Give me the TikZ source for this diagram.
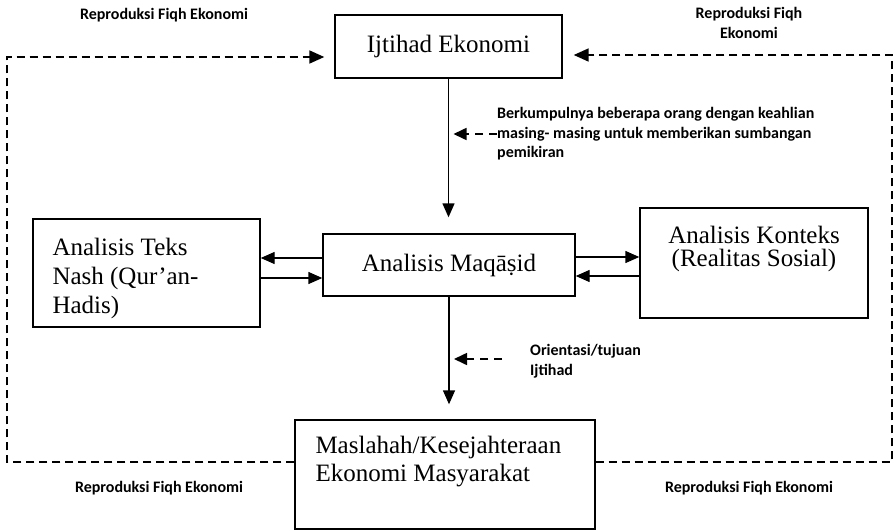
\documentclass[tikz,border=0pt]{standalone}
\usepackage{fontspec}
\setmainfont{Liberation Serif}
\newfontfamily\notefont{Carlito}
\usetikzlibrary{arrows.meta,positioning,calc}

\begin{document}
\begin{tikzpicture}[x=1pt,y=-1pt,
  box/.style={draw, rectangle, line width=1.4pt, inner sep=0pt},
  boxtext/.style={font=\fontsize{25}{29}\selectfont, inner sep=0pt, align=left},
  ptr/.style={-{Triangle[length=14pt,width=12pt]}, line width=1.4pt},
  feedback/.style={-{Triangle[length=15pt,width=13pt]}, line width=1.8pt, dash pattern=on 8pt off 5pt},
  noteptr/.style={-{Triangle[length=13pt,width=12pt]}, line width=1.6pt, dash pattern=on 8pt off 6pt, shorten >=5pt},
  note/.style={font=\notefont\bfseries\fontsize{16}{19.5}\selectfont, inner sep=0pt, align=left},
  repro/.style={note, align=center}
]
\useasboundingbox (0,0) rectangle (896,530);

% boxes
\node[box, minimum width=227pt, minimum height=63pt, font=\fontsize{25}{29}\selectfont] (ijtihad) at (448.5,46.5) {Ijtihad Ekonomi};
\node[box, minimum width=252pt, minimum height=62pt, font=\fontsize{25}{29}\selectfont] (maqasid) at (449,265) {Analisis Maqāṣid};
\node[box, minimum width=227pt, minimum height=108pt] (teks) at (146.5,273) {};
\node[boxtext, below right=20pt and 20pt of teks.north west] (teksTxt) {Analisis Teks\\Nash (Qur’an-\\Hadis)};
\node[box, minimum width=228pt, minimum height=110pt] (konteks) at (754,263) {};
\node[boxtext, align=center, font=\fontsize{25}{23}\selectfont, below=19pt of konteks.north] (konteksTxt) {Analisis Konteks\\(Realitas Sosial)};
\node[box, minimum width=300pt, minimum height=109pt] (maslahah) at (445,474.5) {};
\node[boxtext, font=\fontsize{25}{28}\selectfont, below right=17pt and 21pt of maslahah.north west] (maslahahTxt) {Maslahah/Kesejahteraan\\Ekonomi Masyarakat};

% labels
\node[repro] (reproTL) at (164,15) {Reproduksi Fiqh Ekonomi};
\node[repro] (reproTR) at (749,23) {Reproduksi Fiqh\\Ekonomi};
\node[repro] (reproBL) at (159,488) {Reproduksi Fiqh Ekonomi};
\node[repro] (reproBR) at (749,488) {Reproduksi Fiqh Ekonomi};
\node[note, anchor=west] (note1) at (497,134) {Berkumpulnya beberapa orang dengan keahlian\\masing- masing untuk memberikan sumbangan\\pemikiran};
\node[note, anchor=west] (note2) at (530,361) {Orientasi/tujuan\\Ijtihad};

% loop corners
\coordinate (loopBL) at (7,462);
\coordinate (loopTL) at (7,57);
\coordinate (loopBR) at (892,462);
\coordinate (loopTR) at (892,55);
\coordinate (note2tail) at (502,359);

% main flow
\draw[ptr, shorten >=16pt] (ijtihad.south) -- (ijtihad.south |- maqasid.north);
\draw[ptr, shorten >=15pt] (maqasid.south) -- (maqasid.south |- maslahah.north);
\draw[ptr] ([yshift=7pt]maqasid.west) -- ([yshift=7pt]maqasid.west -| teks.east);
\draw[ptr] ([yshift=-13pt]maqasid.west -| teks.east) -- ([yshift=-13pt]maqasid.west);
\draw[ptr] ([yshift=8pt]maqasid.east) -- ([yshift=8pt]maqasid.east -| konteks.west);
\draw[ptr] ([yshift=-11pt]maqasid.east -| konteks.west) -- ([yshift=-11pt]maqasid.east);

% reproduction loop
\draw[feedback] (loopBL -| maslahah.west) -- (loopBL) -- (loopTL) -- ($(ijtihad.west |- loopTL)+(-10,0)$);
\draw[feedback] (loopBR -| maslahah.east) -- (loopBR) -- (loopTR) -- ($(ijtihad.east |- loopTR)+(11,0)$);

% notes
\draw[noteptr] (note1.west) -- (note1.west -| ijtihad.south);
\draw[noteptr] (note2tail) -- (note2tail -| maqasid.south);
\end{tikzpicture}
\end{document}
